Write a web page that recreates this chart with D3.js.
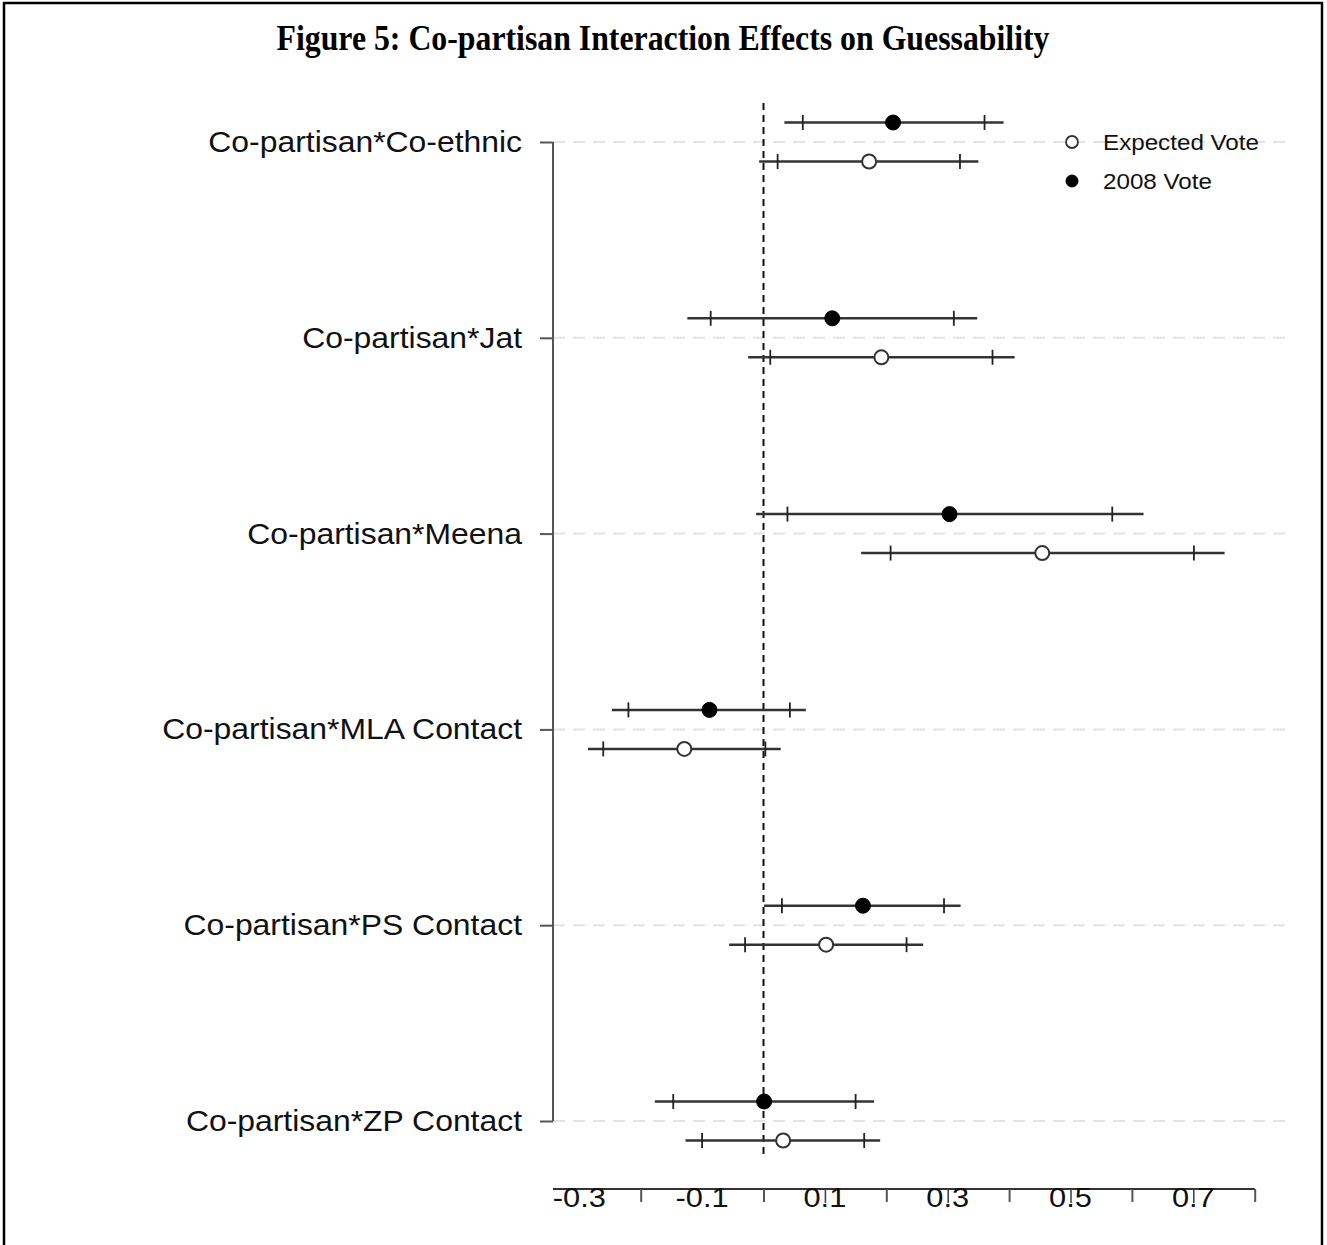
<!DOCTYPE html>
<html><head><meta charset="utf-8">
<script src="https://cdn.jsdelivr.net/npm/d3@7"></script>
<style>body{margin:0;background:#fff}svg{display:block}</style>
</head><body>
<svg id="c" width="1327" height="1245"></svg>
<script>
const title = "Figure 5: Co-partisan Interaction Effects on Guessability";
const categories = ["Co-partisan*Co-ethnic","Co-partisan*Jat","Co-partisan*Meena","Co-partisan*MLA Contact","Co-partisan*PS Contact","Co-partisan*ZP Contact"];
// 2008 Vote (filled)
const vote2008 = [0.211, 0.112, 0.303, -0.088, 0.162, 0.001];
const vote2008Lo95 = [0.034, -0.124, -0.012, -0.247, 0.001, -0.177];
const vote2008Hi95 = [0.391, 0.348, 0.619, 0.069, 0.321, 0.180];
const vote2008Lo90 = [0.064, -0.086, 0.039, -0.220, 0.030, -0.147];
const vote2008Hi90 = [0.360, 0.310, 0.568, 0.043, 0.294, 0.150];
// Expected Vote (open)
const expected = [0.172, 0.192, 0.454, -0.129, 0.102, 0.032];
const expectedLo95 = [-0.007, -0.025, 0.159, -0.286, -0.056, -0.127];
const expectedHi95 = [0.350, 0.409, 0.751, 0.028, 0.260, 0.190];
const expectedLo90 = [0.023, 0.011, 0.207, -0.261, -0.030, -0.100];
const expectedHi90 = [0.320, 0.373, 0.701, 0.003, 0.233, 0.164];
const majorTicks = [-0.2, 0, 0.2, 0.4, 0.6, 0.8];
const minorTicks = [0.1, 0.3, 0.5, 0.7];
const tickLabels = ["-0.3","-0.1","0.1","0.3","0.5","0.7"];
const tickLabelValues = [-0.3, -0.1, 0.1, 0.3, 0.5, 0.7];
const legendLabels = ["Expected Vote", "2008 Vote"];

const svg = d3.select("#c");
const SX = 1.1;
const x = d3.scaleLinear().domain([-0.2, 0.8]).range([640.7, 1254.7]);
const y = d3.scalePoint().domain(categories).range([142, 1121]);
const axX = 553;

// frame
svg.append("rect").attr("x",4).attr("y",3).attr("width",1318).attr("height",1260)
  .attr("fill","none").attr("stroke","#000").attr("stroke-width",2.5);

// title
svg.append("text").attr("transform",`translate(663,50) scale(1,1.12)`)
  .attr("text-anchor","middle").attr("font-family","Liberation Serif").attr("font-weight","bold")
  .attr("font-size",31.8).text(title);

// gridlines
svg.append("g").selectAll("line").data(categories).join("line")
  .attr("x1",axX).attr("x2",1287).attr("y1",d=>y(d)).attr("y2",d=>y(d))
  .attr("stroke","#e3e3e3").attr("stroke-width",2).attr("stroke-dasharray","12,8");

// zero line
svg.append("line").attr("x1",x(0)).attr("x2",x(0)).attr("y1",103).attr("y2",1158)
  .attr("stroke","#111").attr("stroke-width",2).attr("stroke-dasharray","7,5");

// y axis
const ya = svg.append("g").attr("transform",`translate(${axX},0)`)
  .call(d3.axisLeft(y).tickSize(13).tickFormat(""));
ya.select(".domain").attr("d",`M0,${y(categories[0])}V${y(categories[5])}`).attr("stroke","#555").attr("stroke-width",2);
ya.selectAll(".tick line").attr("stroke","#555").attr("stroke-width",2);
svg.append("g").selectAll("text").data(categories).join("text")
  .attr("transform",d=>`translate(522,${y(d)+10}) scale(${SX},1)`)
  .attr("text-anchor","end").attr("font-family","Liberation Sans").attr("font-size",29)
  .attr("fill","#111").text(d=>d);

// x axis
const xa = svg.append("g").attr("transform","translate(0,1189)")
  .call(d3.axisBottom(x).tickValues(majorTicks).tickSize(13).tickFormat(""));
xa.select(".domain").attr("d",`M${axX},0H${x(0.8)}`).attr("stroke","#333").attr("stroke-width",2);
xa.selectAll(".tick line").attr("stroke","#555").attr("stroke-width",2);
svg.append("g").selectAll("text").data(tickLabelValues).join("text")
  .attr("transform",(d)=>`translate(${x(d)},1207) scale(${SX},1)`)
  .attr("text-anchor","middle").attr("font-family","Liberation Sans").attr("font-size",28)
  .attr("fill","#111").text((d,i)=>tickLabels[i]);
const xm = svg.append("g").attr("transform","translate(0,1189)")
  .call(d3.axisBottom(x).tickValues(minorTicks).tickSize(14).tickFormat(""));
xm.select(".domain").remove();
xm.selectAll(".tick line").attr("stroke","#444").attr("stroke-width",1.6);

// series
const off = 19.5;
function drawSeries(pt, lo95, hi95, lo90, hi90, dy, filled){
  const g = svg.append("g");
  const rows = categories.map((c,i)=>({c, pt:pt[i], lo95:lo95[i], hi95:hi95[i], lo90:lo90[i], hi90:hi90[i]}));
  g.selectAll("line.ci").data(rows).join("line").attr("class","ci")
    .attr("x1",d=>x(d.lo95)).attr("x2",d=>x(d.hi95)).attr("y1",d=>y(d.c)+dy).attr("y2",d=>y(d.c)+dy)
    .attr("stroke","#333").attr("stroke-width",2.5);
  ["lo90","hi90"].forEach(k=>{
    g.selectAll("line."+k).data(rows).join("line").attr("class",k)
      .attr("x1",d=>x(d[k])).attr("x2",d=>x(d[k])).attr("y1",d=>y(d.c)+dy-7.5).attr("y2",d=>y(d.c)+dy+7.5)
      .attr("stroke","#222").attr("stroke-width",1.8);
  });
  g.selectAll("circle").data(rows).join("circle")
    .attr("cx",d=>x(d.pt)).attr("cy",d=>y(d.c)+dy).attr("r",filled?7.5:7)
    .attr("fill",filled?"#000":"#fff").attr("stroke",filled?"#000":"#333").attr("stroke-width",filled?1:2);
}
drawSeries(vote2008, vote2008Lo95, vote2008Hi95, vote2008Lo90, vote2008Hi90, -off, true);
drawSeries(expected, expectedLo95, expectedHi95, expectedLo90, expectedHi90, off, false);

// legend
const lg = svg.append("g");
lg.selectAll("circle").data(legendLabels).join("circle")
  .attr("cx",1072).attr("cy",(d,i)=>142+i*39).attr("r",6)
  .attr("fill",(d,i)=>i===0?"#fff":"#000").attr("stroke",(d,i)=>i===0?"#333":"#000").attr("stroke-width",(d,i)=>i===0?1.8:1);
lg.selectAll("text").data(legendLabels).join("text")
  .attr("transform",(d,i)=>`translate(1103,${142+i*39+8}) scale(${SX},1)`)
  .attr("font-family","Liberation Sans").attr("font-size",22).attr("fill","#111").text(d=>d);
</script>
</body></html>
